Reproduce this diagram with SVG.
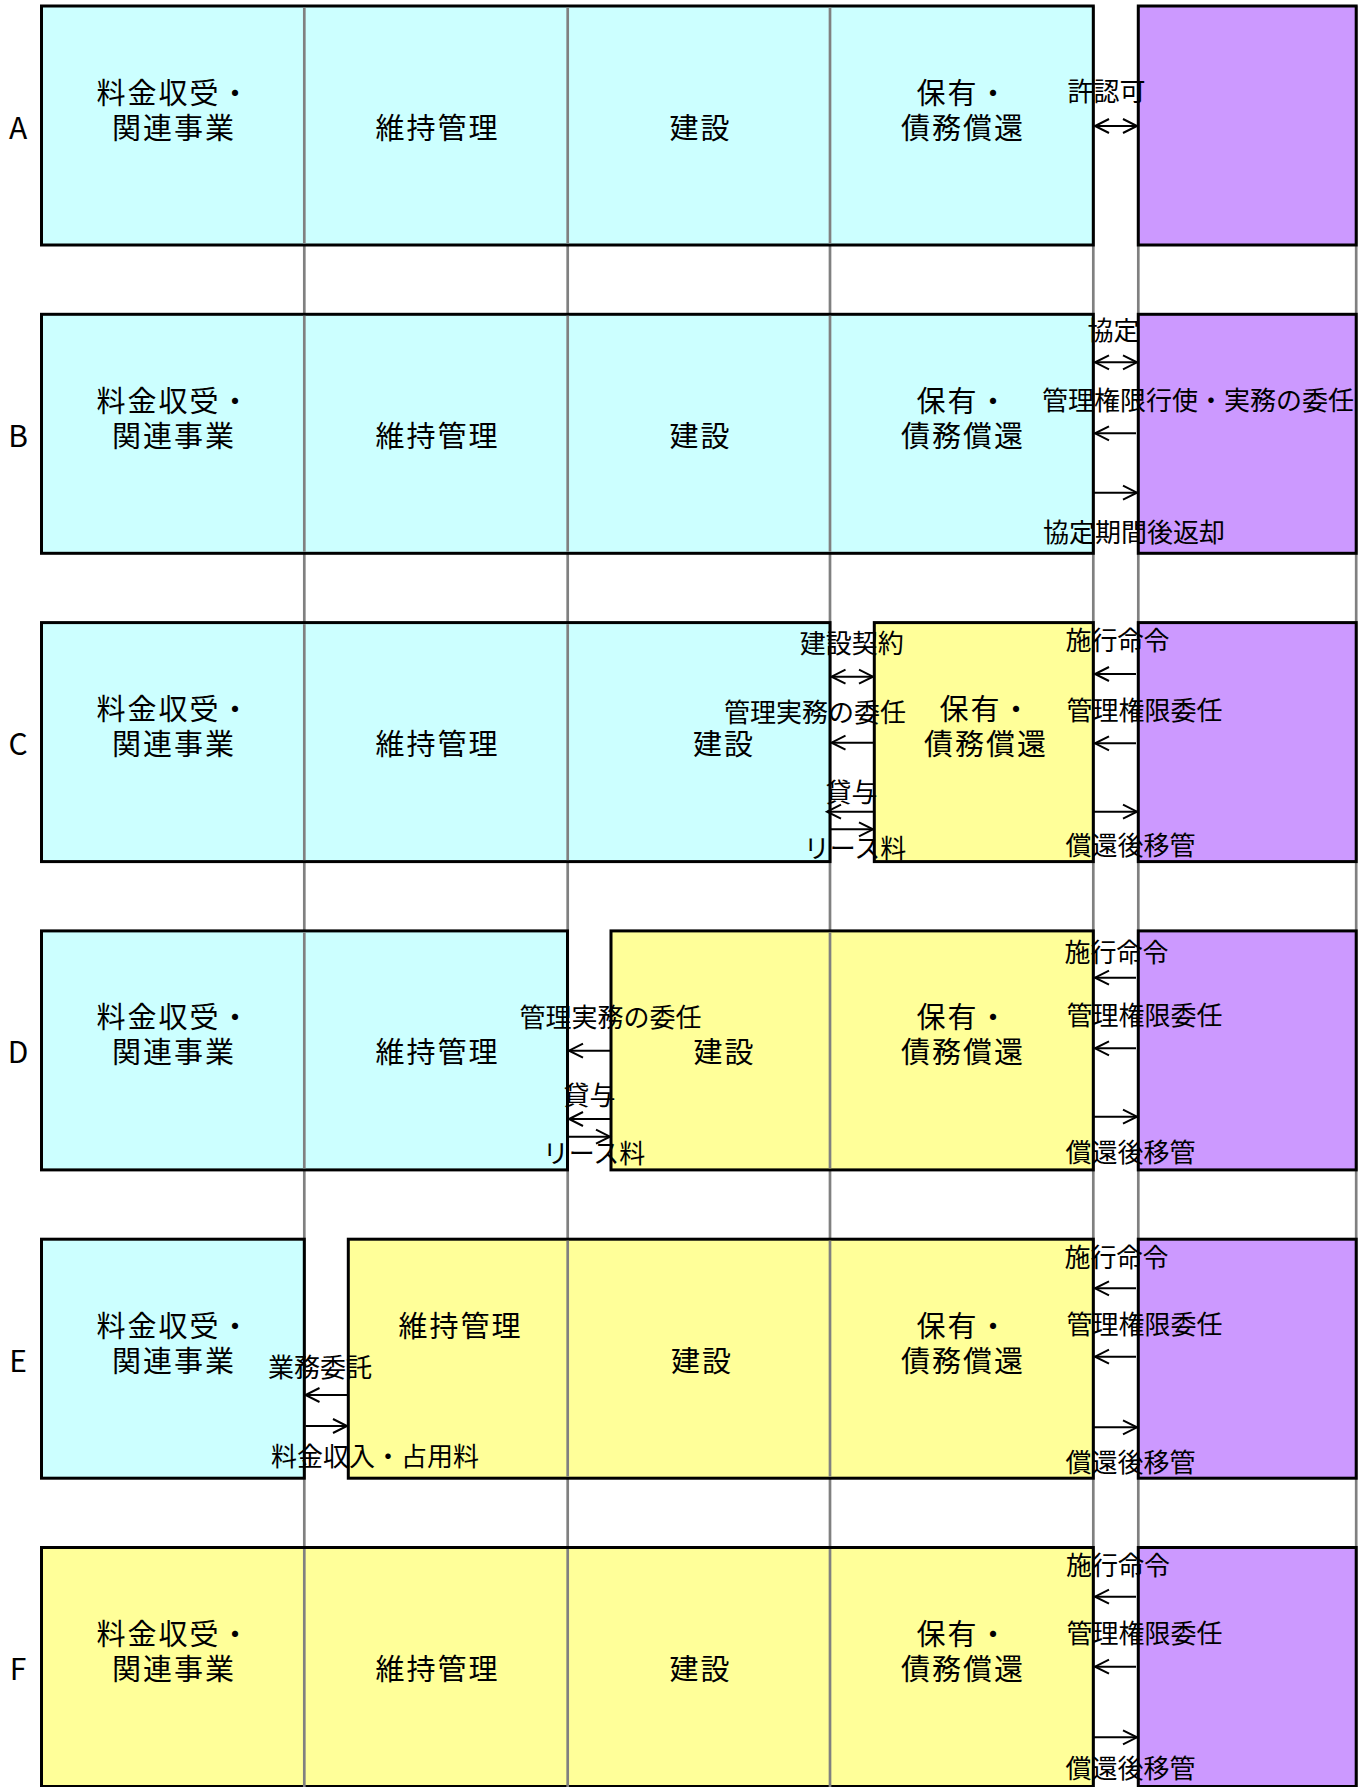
<svg xmlns="http://www.w3.org/2000/svg" width="1369" height="1787" viewBox="0 0 1369 1787">
<style>
.cy{fill:#CCFFFF}.ye{fill:#FFFF99}.pu{fill:#CC99FF}
.box{stroke:#000;stroke-width:3}
.g{stroke:#808080;stroke-width:2.7;fill:none}
text{font-family:"Noto Sans CJK JP","Noto Sans",sans-serif;fill:#000;dominant-baseline:central;text-anchor:middle}
.lb{font-size:29px;letter-spacing:2px}
.cl{font-size:26px}
.rl{font-family:"DejaVu Sans",sans-serif;font-size:30px}
.a{stroke:#000;stroke-width:2;fill:none}
.e{marker-end:url(#ah)}
.d{marker-start:url(#ah);marker-end:url(#ah)}
</style>
<defs>
<marker id="ah" markerUnits="userSpaceOnUse" markerWidth="18" markerHeight="18" refX="15" refY="8" orient="auto-start-reverse" overflow="visible">
<path d="M1,1 L15,8 L1,15" fill="none" stroke="#000" stroke-width="2"/>
</marker>
</defs>
<rect width="1369" height="1787" fill="#fff"/>
<g id="grid-under" class="g">
<line x1="304.3" y1="6" x2="304.3" y2="1787"/>
<line x1="567.7" y1="6" x2="567.7" y2="1787"/>
<line x1="830" y1="6" x2="830" y2="1787"/>
<line x1="1093.3" y1="6" x2="1093.3" y2="1787"/>
<line x1="1138.3" y1="6" x2="1138.3" y2="1787"/>
<line x1="1356.2" y1="6" x2="1356.2" y2="1787"/>
</g>
<g id="row-labels" class="rl">
<text x="18" y="126">A</text>
<text x="18" y="434">B</text>
<text x="18" y="742">C</text>
<text x="18" y="1050">D</text>
<text x="18" y="1359">E</text>
<text x="18" y="1667">F</text>
</g>
<!-- Row A -->
<g id="A-public"><rect class="cy box" x="41.5" y="6" width="1051.8" height="239"/></g>
<g id="A-gov"><rect class="pu box" x="1138.3" y="6" width="217.9" height="239"/></g>
<!-- Row B -->
<g id="B-public"><rect class="cy box" x="41.5" y="314.3" width="1051.8" height="239"/></g>
<g id="B-gov"><rect class="pu box" x="1138.3" y="314.3" width="217.9" height="239"/></g>
<!-- Row C -->
<g id="C-public"><rect class="cy box" x="41.5" y="622.6" width="788.5" height="239"/></g>
<g id="C-private"><rect class="ye box" x="874.3" y="622.6" width="219" height="239"/></g>
<g id="C-gov"><rect class="pu box" x="1138.3" y="622.6" width="217.9" height="239"/></g>
<!-- Row D -->
<g id="D-public"><rect class="cy box" x="41.5" y="930.9" width="526" height="239"/></g>
<g id="D-private"><rect class="ye box" x="611" y="930.9" width="482.3" height="239"/></g>
<g id="D-gov"><rect class="pu box" x="1138.3" y="930.9" width="217.9" height="239"/></g>
<!-- Row E -->
<g id="E-public"><rect class="cy box" x="41.5" y="1239.2" width="262.8" height="239"/></g>
<g id="E-private"><rect class="ye box" x="348.3" y="1239.2" width="745" height="239"/></g>
<g id="E-gov"><rect class="pu box" x="1138.3" y="1239.2" width="217.9" height="239"/></g>
<!-- Row F -->
<g id="F-private"><rect class="ye box" x="41.5" y="1547.5" width="1051.8" height="239"/></g>
<g id="F-gov"><rect class="pu box" x="1138.3" y="1547.5" width="217.9" height="239"/></g>
<g id="grid-over" class="g">
<line x1="304.3" y1="7.5" x2="304.3" y2="243.5"/><line x1="567.7" y1="7.5" x2="567.7" y2="243.5"/><line x1="830" y1="7.5" x2="830" y2="243.5"/>
<line x1="304.3" y1="315.8" x2="304.3" y2="551.8"/><line x1="567.7" y1="315.8" x2="567.7" y2="551.8"/><line x1="830" y1="315.8" x2="830" y2="551.8"/>
<line x1="304.3" y1="624.1" x2="304.3" y2="860.1"/><line x1="567.7" y1="624.1" x2="567.7" y2="860.1"/>
<line x1="304.3" y1="932.4" x2="304.3" y2="1168.4"/><line x1="830" y1="932.4" x2="830" y2="1168.4"/>
<line x1="567.7" y1="1240.7" x2="567.7" y2="1476.7"/><line x1="830" y1="1240.7" x2="830" y2="1476.7"/>
<line x1="304.3" y1="1549" x2="304.3" y2="1787"/><line x1="567.7" y1="1549" x2="567.7" y2="1787"/><line x1="830" y1="1549" x2="830" y2="1787"/>
</g>
<g id="box-labels" class="lb">
<text x="174"><tspan x="174" y="90.5">料金収受・</tspan><tspan x="174" y="125.5">関連事業</tspan></text>
<text x="437.5" y="125.5">維持管理</text>
<text x="700.5" y="125.5">建設</text>
<text x="963"><tspan x="963" y="90.5">保有・</tspan><tspan x="963" y="125.5">債務償還</tspan></text>

<text x="174"><tspan x="174" y="398.8">料金収受・</tspan><tspan x="174" y="433.8">関連事業</tspan></text>
<text x="437.5" y="433.8">維持管理</text>
<text x="700.5" y="433.8">建設</text>
<text x="963"><tspan x="963" y="398.8">保有・</tspan><tspan x="963" y="433.8">債務償還</tspan></text>

<text x="174"><tspan x="174" y="707.1">料金収受・</tspan><tspan x="174" y="742.1">関連事業</tspan></text>
<text x="437.5" y="742.1">維持管理</text>
<text x="724" y="742.1">建設</text>
<text x="986"><tspan x="986" y="707.1">保有・</tspan><tspan x="986" y="742.1">債務償還</tspan></text>

<text x="174"><tspan x="174" y="1015.4">料金収受・</tspan><tspan x="174" y="1050.4">関連事業</tspan></text>
<text x="437.5" y="1050.4">維持管理</text>
<text x="724.5" y="1050.4">建設</text>
<text x="963"><tspan x="963" y="1015.4">保有・</tspan><tspan x="963" y="1050.4">債務償還</tspan></text>

<text x="174"><tspan x="174" y="1323.7">料金収受・</tspan><tspan x="174" y="1358.7">関連事業</tspan></text>
<text x="460.5" y="1323.7">維持管理</text>
<text x="702" y="1358.7">建設</text>
<text x="963"><tspan x="963" y="1323.7">保有・</tspan><tspan x="963" y="1358.7">債務償還</tspan></text>

<text x="174"><tspan x="174" y="1632">料金収受・</tspan><tspan x="174" y="1667">関連事業</tspan></text>
<text x="437.5" y="1667">維持管理</text>
<text x="700.5" y="1667">建設</text>
<text x="963"><tspan x="963" y="1632">保有・</tspan><tspan x="963" y="1667">債務償還</tspan></text>
</g>
<g id="connectors" class="a">
<!-- A -->
<line class="d" x1="1095" y1="126" x2="1137" y2="126"/>
<!-- B -->
<line class="d" x1="1095" y1="362.3" x2="1137" y2="362.3"/>
<line class="e" x1="1136" y1="433.3" x2="1095" y2="433.3"/>
<line class="e" x1="1094" y1="492.7" x2="1137" y2="492.7"/>
<!-- C -->
<line class="d" x1="831.5" y1="676.7" x2="873" y2="676.7"/>
<line class="e" x1="873" y1="742.7" x2="831.5" y2="742.7"/>
<line class="e" x1="873" y1="811.7" x2="827" y2="811.7"/>
<line class="e" x1="831" y1="829.3" x2="873" y2="829.3"/>
<line class="e" x1="1136" y1="674" x2="1095" y2="674"/>
<line class="e" x1="1136" y1="743.3" x2="1095" y2="743.3"/>
<line class="e" x1="1094" y1="811.7" x2="1137" y2="811.7"/>
<!-- D -->
<line class="e" x1="610" y1="1050.7" x2="569" y2="1050.7"/>
<line class="e" x1="610" y1="1119" x2="569" y2="1119"/>
<line class="e" x1="569" y1="1136.7" x2="610" y2="1136.7"/>
<line class="e" x1="1136" y1="977.7" x2="1095" y2="977.7"/>
<line class="e" x1="1136" y1="1048.3" x2="1095" y2="1048.3"/>
<line class="e" x1="1094" y1="1116.7" x2="1137" y2="1116.7"/>
<!-- E -->
<line class="e" x1="347" y1="1395" x2="305.5" y2="1395"/>
<line class="e" x1="305.5" y1="1426" x2="347" y2="1426"/>
<line class="e" x1="1136" y1="1288.3" x2="1095" y2="1288.3"/>
<line class="e" x1="1136" y1="1356.7" x2="1095" y2="1356.7"/>
<line class="e" x1="1094" y1="1427.3" x2="1137" y2="1427.3"/>
<!-- F -->
<line class="e" x1="1136" y1="1596.7" x2="1095" y2="1596.7"/>
<line class="e" x1="1136" y1="1666.7" x2="1095" y2="1666.7"/>
<line class="e" x1="1094" y1="1737.3" x2="1137" y2="1737.3"/>
</g>
<g id="connector-labels" class="cl">
<text x="1106.5" y="89">許認可</text>
<text x="1113.5" y="328">協定</text>
<text x="1198" y="398.3">管理権限行使・実務の委任</text>
<text x="1134" y="530">協定期間後返却</text>

<text x="851.7" y="641.7">建設契約</text>
<text x="815" y="710">管理実務の委任</text>
<text x="851.5" y="790">貸与</text>
<text x="855" y="846.7">リース料</text>
<text x="1117.5" y="638.3">施行命令</text>
<text x="1144.5" y="708">管理権限委任</text>
<text x="1130.5" y="843">償還後移管</text>

<text x="610.5" y="1015">管理実務の委任</text>
<text x="589.5" y="1093.3">貸与</text>
<text x="594" y="1151.7">リース料</text>
<text x="1116.5" y="950">施行命令</text>
<text x="1144.5" y="1013.3">管理権限委任</text>
<text x="1130.5" y="1150">償還後移管</text>

<text x="320" y="1365">業務委託</text>
<text x="375" y="1454">料金収入・占用料</text>
<text x="1116.5" y="1255">施行命令</text>
<text x="1144.5" y="1322.7">管理権限委任</text>
<text x="1130.5" y="1460">償還後移管</text>

<text x="1118" y="1563.3">施行命令</text>
<text x="1144.5" y="1631.7">管理権限委任</text>
<text x="1130.5" y="1766.7">償還後移管</text>
</g>
</svg>
